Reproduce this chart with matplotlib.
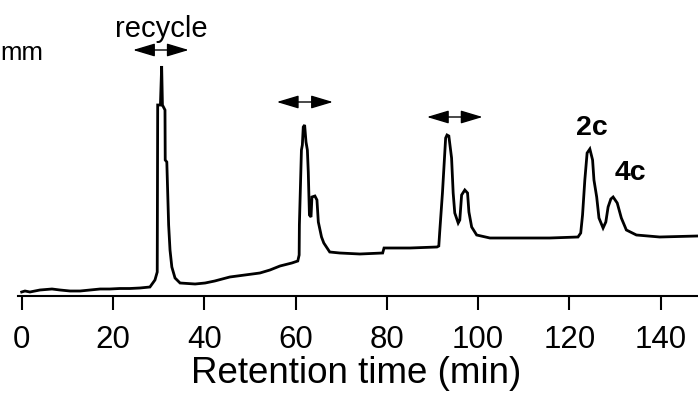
import matplotlib
matplotlib.use("Agg")
import matplotlib.pyplot as plt

plt.rcParams['font.family'] = ['Liberation Sans', 'DejaVu Sans']

# Chromatogram trace: retention time (min) and detector signal (arbitrary units)
time_min = [0.0, 0.72, 1.8, 4.0, 6.64, 8.4, 10.6, 12.8, 15.0, 17.2, 19.3, 21.5, 23.7, 25.9,
            28.1, 29.2, 29.7, 29.8, 30.4, 30.67, 30.84, 31.4, 31.45, 31.8, 32.2, 32.5, 32.9,
            33.6, 34.7, 38.0, 40.2, 42.3, 45.6, 48.9, 52.2, 54.4, 56.6, 59.2, 60.5, 60.8,
            60.85, 61.3, 61.5, 61.7, 62.0, 62.3, 62.6, 62.8, 63.05, 63.4, 63.6, 64.25, 64.7,
            65.0, 65.7, 66.2, 67.5, 69.7, 74.1, 79.1, 79.4, 85.1, 91.0, 91.4, 91.6, 92.2,
            92.9, 93.2, 93.6, 94.2, 94.55, 94.9, 95.65, 96.0, 96.4, 97.1, 97.7, 98.0, 98.6,
            99.7, 102.6, 109.2, 115.7, 121.9, 122.5, 122.9, 123.4, 123.9, 124.5, 125.1,
            125.4, 126.0, 126.5, 127.4, 128.0, 128.5, 129.1, 129.6, 130.5, 131.4, 132.5,
            134.7, 139.8, 148.1]
signal = [4, 5, 4, 6, 7, 6, 5, 5, 6, 7, 7, 7.5, 7.5, 8,
          9, 16, 24, 191, 191, 230, 191, 186, 136, 134, 71, 46, 29,
          18, 13, 12, 13, 15, 19, 21, 23, 26, 30, 33, 35, 41,
          71, 146, 151, 169, 171, 154, 146, 124, 81, 79, 99, 100, 96,
          74, 59, 53, 44, 43, 42, 43, 48, 48, 49, 50, 64, 103,
          158, 161, 160, 138, 103, 83, 73, 76, 101, 106, 103, 84, 69,
          61, 58, 58, 58, 59, 63, 81, 116, 143, 147, 136,
          116, 99, 78, 68, 74, 89, 97, 99, 93, 78, 66,
          61, 59, 60]

x_ticks = [0, 20, 40, 60, 80, 100, 120, 140]
recycle_ranges = [(24.4, 36.6), (55.9, 68.2), (88.8, 101.0)]
recycle_levels = [246, 194, 179]
peak_labels = ["2c", "4c"]
peak_label_pos = [(124.9, 168), (133.3, 123)]

W, H = 698, 397
fig = plt.figure(figsize=(W / 100, H / 100), dpi=100)
ax = fig.add_axes([18 / W, 1 - 296 / H, (W - 18) / W, 296 / H])
ax.plot(time_min, signal, color='black', lw=2.0, solid_joinstyle='miter')
ax.set_xlim(-0.81, 148.2)
ax.set_ylim(0, 296)

for s in ['top', 'right', 'left']:
    ax.spines[s].set_visible(False)
ax.spines['bottom'].set_linewidth(1.5)
ax.set_yticks([])
ax.set_xticks(x_ticks)
ax.tick_params(axis='x', direction='out', length=10, width=1.5, labelsize=22.5, pad=11)
ax.set_xlabel("Retention time (min)", fontsize=26.5)
ax.xaxis.set_label_coords((356.5 - 18) / (W - 18), (296 - 391) / 296)
ax.xaxis.label.set_va('bottom')

for (x0, x1), yv in zip(recycle_ranges, recycle_levels):
    ax.annotate('', xy=(x1, yv), xytext=(x0, yv),
                arrowprops=dict(arrowstyle='<|-|>,head_length=0.9,head_width=0.27',
                                mutation_scale=15, color='black', lw=1.0,
                                shrinkA=0, shrinkB=0))

ax.text(30.5, 267, "recycle", fontsize=21, ha='center', va='center')
for lab, (tx, ty) in zip(peak_labels, peak_label_pos):
    ax.text(tx, ty, lab, fontsize=20.5, fontweight='bold', ha='center', va='center')

fig.text(0.5 / W, 1 - 60 / H, "mm", fontsize=18.5, ha='left', va='baseline')

fig.savefig("out.png", dpi=100)
